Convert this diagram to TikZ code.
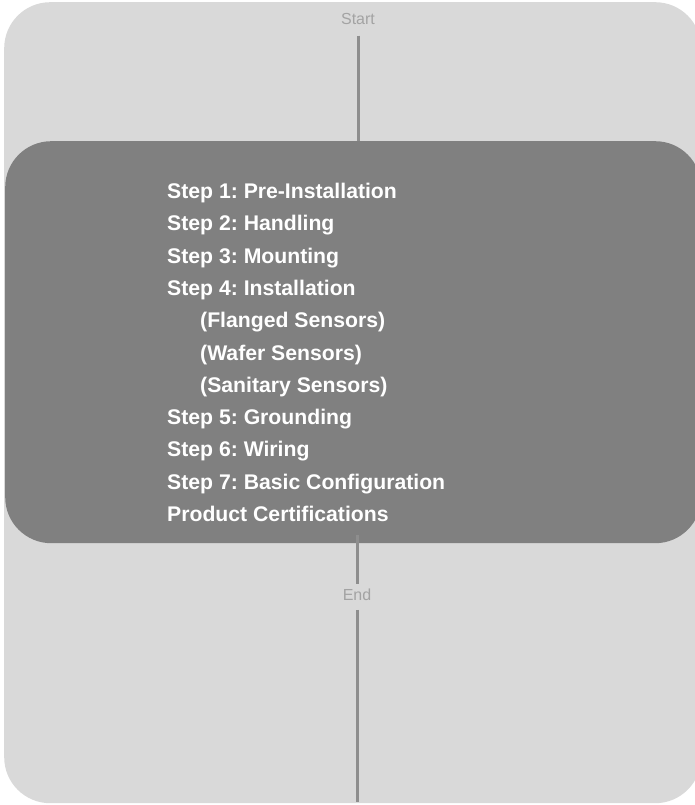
\documentclass[tikz,border=0pt]{standalone}
\usepackage{fontspec}
\setmainfont{Liberation Sans}
\usepackage{xcolor}
\usetikzlibrary{positioning}
\definecolor{panelgray}{HTML}{D9D9D9}
\definecolor{boxgray}{HTML}{808080}
\definecolor{linegray}{HTML}{8E8E8E}
\definecolor{labelgray}{HTML}{A3A3A3}
\frenchspacing

\begin{document}
\begin{tikzpicture}[x=1pt,y=-1pt,
    flowline/.style={draw=linegray,line width=3pt},
    endlabel/.style={text=labelgray,font=\fontsize{16}{18}\selectfont,inner sep=0pt,outer sep=0pt}]
  \useasboundingbox (0,0) rectangle (695,805);

  % Panel
  \node[fill=panelgray,rounded corners=46pt,minimum width=697pt,minimum height=801pt,
        anchor=north west,inner sep=0pt] (panel) at (4,2) {};

  % Steps
  \node[fill=boxgray,rounded corners=46pt,minimum width=696pt,minimum height=402pt,
        anchor=north west,inner sep=0pt] (box) at (5,141) {};
  \node[anchor=north west,align=left,text=white,inner sep=0pt,
        font=\fontsize{21.2}{32.3}\selectfont\bfseries\frenchspacing] (steps) at (167,183) {%
    Step 1: Pre-Installation\\
    Step 2: Handling\\
    Step 3: Mounting\\
    Step 4: Installation\\
    \hspace*{33pt}(Flanged Sensors)\\
    \hspace*{33pt}(Wafer Sensors)\\
    \hspace*{33pt}(Sanitary Sensors)\\
    Step 5: Grounding\\
    Step 6: Wiring\\
    Step 7: Basic Configuration\\
    Product Certifications};

  % Start and end
  \node[endlabel] (start) at (358,19) {Start};
  \node[endlabel] (end) at (357,595) {End};
  \coordinate (bottom) at (357,802);

  \draw[flowline] ([yshift=-11pt]start.south) -- (start.south |- box.north);
  \draw[flowline] ([yshift=8pt]end.north |- box.south) -- ([yshift=5pt]end.north);
  \draw[flowline] ([yshift=-9pt]end.south) -- (bottom);

\end{tikzpicture}
\end{document}
